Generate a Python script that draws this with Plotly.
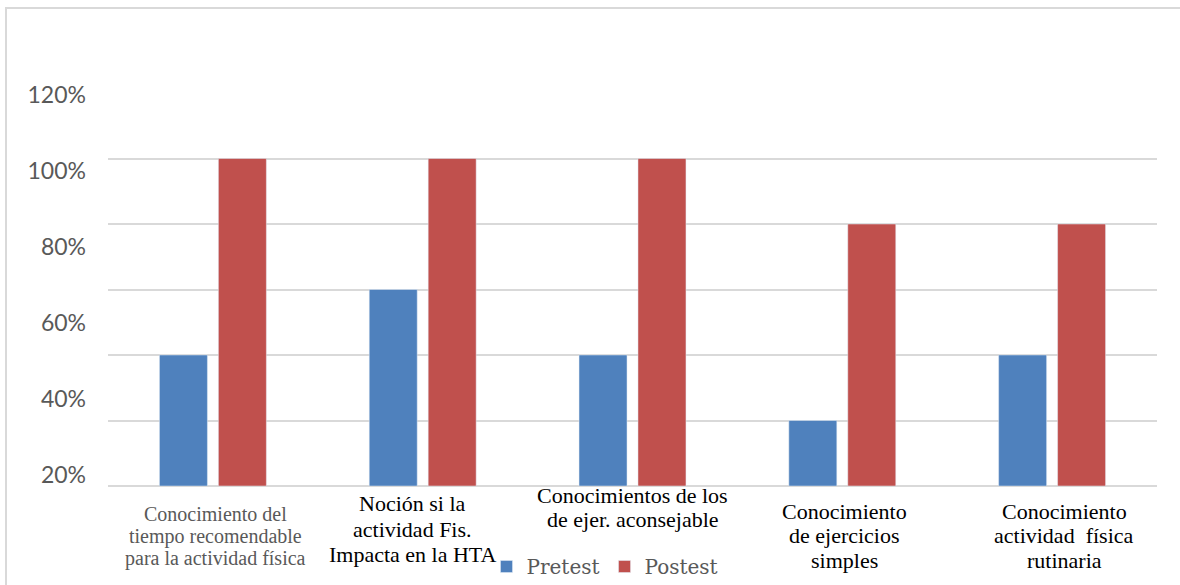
import plotly.graph_objects as go

# Categories (each label split into its printed lines)
categories = ["C1", "C2", "C3", "C4", "C5"]
category_lines = [
    ["Conocimiento del", "tiempo recomendable", "para la actividad física"],
    ["Noción si la", "actividad Fis.", "Impacta en la HTA"],
    ["Conocimientos de los", "de ejer. aconsejable"],
    ["Conocimiento", "de ejercicios", "simples"],
    ["Conocimiento", "actividad  física", "rutinaria"],
]

# Percentages per series
pretest = [40, 60, 40, 20, 40]
postest = [100, 100, 100, 80, 80]

# Value-axis labels
tick_values = [20, 40, 60, 80, 100, 120]
tick_text = ["20%", "40%", "60%", "80%", "100%", "120%"]

BLUE = "#4f81bd"
RED = "#c0504d"
GRID = "#d9d9d9"
LABEL_GREY = "#595959"

W, H = 1180, 585
ML, MR, MT, MB = 108, 23, 93, 99
plot_h = H - MT - MB
plot_w = W - ML - MR

fig = go.Figure()
fig.add_bar(x=categories, y=pretest, name="Pretest", marker_color=BLUE)
fig.add_bar(x=categories, y=postest, name="Postest", marker_color=RED)
# carrier trace for the label axis
fig.add_scatter(x=[], y=[], yaxis="y2", showlegend=False, hoverinfo="skip")

# label styling per category: font, size, colour, x offset, line baselines (px)
label_style = [
    dict(font="Liberation Serif", size=20, color=LABEL_GREY, dx=3, base=[521, 543, 565]),
    dict(font="Liberation Serif", size=22, color="#000000", dx=-10, base=[511, 537, 562]),
    dict(font="Liberation Serif", size=22, color="#000000", dx=0, base=[503, 527]),
    dict(font="Liberation Serif", size=22, color="#000000", dx=2, base=[519, 543, 568]),
    dict(font="Liberation Serif", size=22, color="#000000", dx=12, base=[519, 543, 568]),
]

annotations = []
bottom_px = H - MB
for cat, lines, st in zip(categories, category_lines, label_style):
    for line, base in zip(lines, st["base"]):
        mid = base - 0.34 * st["size"]
        annotations.append(dict(
            x=cat, xref="x", y=0, yref="paper",
            text=line, showarrow=False,
            xanchor="center", yanchor="middle",
            xshift=st["dx"], yshift=bottom_px - mid,
            font=dict(family=st["font"], size=st["size"], color=st["color"]),
        ))

# outer chart border (extends past the right/bottom edges)
border_shape = dict(
    type="rect", xref="paper", yref="paper",
    x0=(6 - ML) / plot_w, x1=(W + 10 - ML) / plot_w,
    y0=(bottom_px - (H + 10)) / plot_h, y1=(bottom_px - 8) / plot_h,
    line=dict(color=GRID, width=2), fillcolor="rgba(0,0,0,0)", layer="below",
)

fig.update_layout(
    width=W, height=H,
    margin=dict(l=ML, r=MR, t=MT, b=MB, autoexpand=False),
    paper_bgcolor="white", plot_bgcolor="white",
    barmode="group", bargap=0.438, bargroupgap=0.186,
    xaxis=dict(showticklabels=False, showgrid=False, showline=False, ticks=""),
    yaxis=dict(range=[0, 120], dtick=20, showticklabels=False, showgrid=True,
               gridcolor=GRID, gridwidth=2, zeroline=True, zerolinecolor=GRID,
               zerolinewidth=2, ticks=""),
    yaxis2=dict(overlaying="y", side="left", range=[16.97, 120.39],
                tickvals=tick_values, ticktext=tick_text, showgrid=False,
                zeroline=False, ticks="", ticklabelstandoff=21,
                tickfont=dict(family="Lato", size=23, color=LABEL_GREY)),
    legend=dict(orientation="h", x=(486.5 - ML) / plot_w, xanchor="left",
                y=(bottom_px - 547) / plot_h, yanchor="top",
                bgcolor="rgba(0,0,0,0)",
                font=dict(family="DejaVu Serif", size=20, color=LABEL_GREY)),
    annotations=annotations,
    shapes=[border_shape],
)

fig.write_html("out.html")
